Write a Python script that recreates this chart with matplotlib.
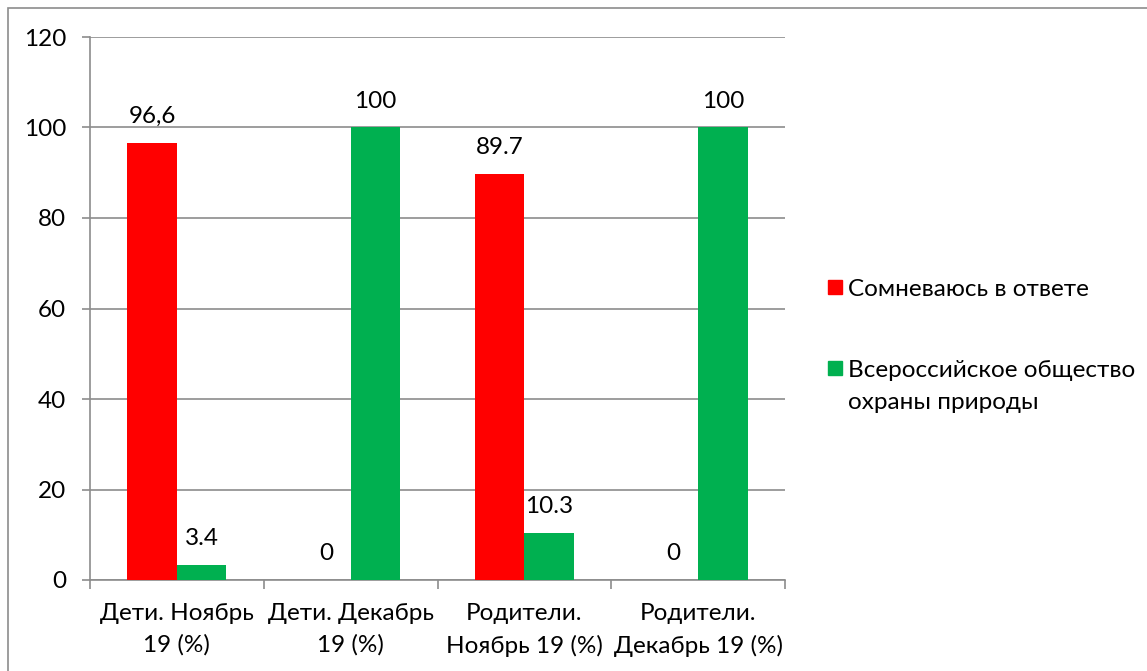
import matplotlib as mpl
import numpy as np
from matplotlib import pyplot as plt
from matplotlib.patches import Rectangle

# data
categories = ['Дети. Ноябрь\n19 (%)', 'Дети. Декабрь\n19 (%)',
              'Родители.\nНоябрь 19 (%)', 'Родители.\nДекабрь 19 (%)']
doubt = [96.6, 0, 89.7, 0]
society = [3.4, 100, 10.3, 100]
doubt_labels = ['96,6', '0', '89.7', '0']
society_labels = ['3.4', '100', '10.3', '100']
series_names = ['Сомневаюсь в ответе', 'Всероссийское общество\nохраны природы']

RED = '#FF0000'
GREEN = '#00B050'
GRID = '#8C8C8C'
FS = 17.5
PT = 0.72  # points per pixel at dpi 100

plt.rcParams['font.family'] = ['Lato', 'DejaVu Sans']

W, H = 1147, 671
fig = plt.figure(figsize=(W / 100, H / 100), dpi=100)
ax = fig.add_axes([90 / W, 1 - 580 / H, (785 - 90) / W, (580 - 37) / H])

x = np.arange(len(categories))
width = 0.285
ax.bar(x - width / 2, doubt, width, color=RED, zorder=3)
ax.bar(x + width / 2, society, width, color=GREEN, zorder=3)

for i in range(len(categories)):
    ax.annotate(doubt_labels[i], (x[i] - width / 2, doubt[i]), xytext=(0, 16),
                textcoords='offset pixels', ha='center', va='bottom', fontsize=FS)
    ax.annotate(society_labels[i], (x[i] + width / 2, society[i]), xytext=(0, 16),
                textcoords='offset pixels', ha='center', va='bottom', fontsize=FS)

ax.set_xlim(-0.5, len(categories) - 0.5)
ax.set_ylim(0, 120)
ax.set_yticks(np.arange(0, 121, 20))
ax.yaxis.grid(True, color=GRID, linewidth=1.2, zorder=0)
ax.set_axisbelow(True)

ax.set_xticks(x)
ax.set_xticklabels(categories, fontsize=FS, linespacing=1.6)
ax.set_xticks(np.arange(-0.5, len(categories)), minor=True)
ax.tick_params(axis='x', which='major', length=0, pad=23 * PT)
ax.tick_params(axis='x', which='minor', length=9 * PT, width=1.2, color=GRID, direction='out')
ax.tick_params(axis='y', length=8 * PT, width=1.2, color=GRID, labelsize=FS, pad=16 * PT)

for side in ['top', 'right']:
    ax.spines[side].set_visible(False)
for side in ['left', 'bottom']:
    ax.spines[side].set_color(GRID)
    ax.spines[side].set_linewidth(1.2)

# legend drawn by hand, like the Excel layout
colors = [RED, GREEN]
rows = [287, 368]
for name, c, yp in zip(series_names, colors, rows):
    fig.patches.append(Rectangle((828 / W, 1 - (yp + 7) / H), 14 / W, 14 / H,
                                 transform=fig.transFigure, color=c, figure=fig))
    fig.text(848 / W, 1 - (yp - 8) / H, name, fontsize=FS, va='top', ha='left',
             linespacing=1.65)

# outer chart border
fig.patches.append(Rectangle((8 / W, -0.1), 1.2, 1.1 - 8 / H, transform=fig.transFigure,
                             fill=False, edgecolor=GRID, linewidth=1.2, figure=fig))

fig.savefig('out.png', dpi=100)
